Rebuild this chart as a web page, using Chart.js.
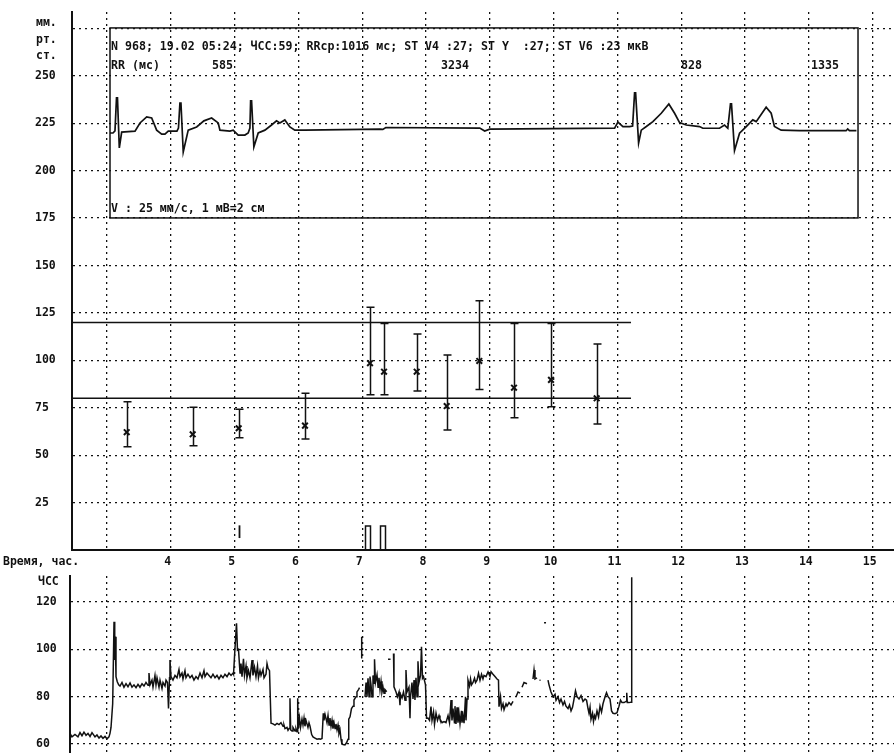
<!DOCTYPE html>
<html>
<head>
<meta charset="utf-8">
<script src="https://cdn.jsdelivr.net/npm/chart.js@4.4.1/dist/chart.umd.min.js"></script>
<style>
    html, body { margin: 0; padding: 0; background: #fff; }
    body { width: 894px; height: 753px; position: relative; overflow: hidden; }
    canvas { position: absolute; left: 0; }
    #bpChart { top: 0; }
    #hrChart { top: 570px; }
</style>
</head>
<body>
<canvas id="bpChart" width="894" height="570"></canvas>
<canvas id="hrChart" width="894" height="183"></canvas>
<script>
// time axis (hours)
const hourTicks = [3, 4, 5, 6, 7, 8, 9, 10, 11, 12, 13, 14, 15];
const hourLabels = ['', '4', '5', '6', '7', '8', '9', '10', '11', '12', '13', '14', '15'];

// blood pressure axis (mm Hg)
const bpTicks = [0, 25, 50, 75, 100, 125, 150, 175, 200, 225, 250, 275];
const bpTickLabels = ['', '25', '50', '75', '100', '125', '150', '175', '200', '225', '250', ''];

// heart rate axis
const hrTicks = [60, 80, 100, 120];
const hrTickLabels = ['60', '80', '100', '120'];

// blood pressure measurements
const bpHours = [3.309, 4.343, 5.064, 6.103, 7.122, 7.342, 7.854, 8.324, 8.835, 9.379, 9.959, 10.675];
const bpMean = [62.1, 61.0, 64.2, 65.6, 98.5, 94.0, 94.0, 75.9, 99.7, 85.6, 89.7, 80.0];
const bpHigh = [78.2, 75.3, 74.2, 82.6, 128.0, 119.5, 113.9, 102.8, 131.5, 119.5, 119.5, 108.6];
const bpLow = [54.5, 55.0, 59.2, 58.5, 81.9, 81.9, 83.9, 63.3, 84.7, 69.8, 75.6, 66.5];

// normal range lines
const normLevels = [80, 120];
const normEnd = 11.213;

// event marks near the time axis
const eventHours = [7.091, 7.326];
const eventHeight = [12.7, 12.7];
const tickMarkHour = [5.069];
const tickMarkRange = [[6.3, 13]];

// ECG strip, drawn in the chart's units
const ecgFrame = { from: 3.047, to: 14.771, low: 175.1, high: 275.3 };
const ecgTrace = [
    [3.047, 219.9], [3.094, 219.9], [3.125, 221.0], [3.149, 238.4], [3.164, 238.4], [3.193, 212.0],
    [3.230, 220.4], [3.439, 220.9], [3.517, 225.2], [3.622, 228.4], [3.700, 227.8], [3.778, 221.4],
    [3.857, 219.3], [3.908, 219.3], [3.960, 220.9], [4.096, 220.9], [4.120, 222.5], [4.143, 235.7],
    [4.159, 235.7], [4.195, 209.9], [4.273, 221.4], [4.405, 223.1], [4.519, 226.3], [4.640, 227.8],
    [4.743, 225.2], [4.770, 221.4], [4.926, 220.9], [4.978, 221.4], [5.056, 218.8], [5.161, 218.8],
    [5.213, 219.9], [5.240, 222.5], [5.251, 236.8], [5.266, 236.8], [5.302, 212.5], [5.370, 219.9],
    [5.475, 221.4], [5.579, 224.1], [5.657, 226.3], [5.709, 225.2], [5.787, 226.8], [5.866, 223.1],
    [5.944, 221.4], [6.101, 221.4], [7.276, 221.9], [7.323, 221.8], [7.370, 222.8], [8.842, 222.5],
    [8.920, 220.9], [8.998, 221.9], [10.956, 222.5], [11.008, 225.6], [11.086, 223.3], [11.191, 223.3],
    [11.238, 223.6], [11.269, 241.0], [11.285, 241.0], [11.332, 214.6], [11.374, 221.4], [11.453, 223.3],
    [11.556, 225.9], [11.687, 230.3], [11.806, 235.2], [11.896, 230.3], [11.974, 225.4], [12.079, 224.1],
    [12.287, 223.3], [12.339, 222.4], [12.600, 222.4], [12.679, 224.1], [12.730, 222.4], [12.772, 235.2],
    [12.788, 235.2], [12.835, 210.6], [12.914, 219.8], [13.019, 223.3], [13.122, 226.8], [13.175, 225.9],
    [13.331, 233.5], [13.410, 230.3], [13.461, 223.3], [13.566, 221.4], [13.853, 221.1], [14.584, 221.1],
    [14.609, 222.0], [14.636, 221.1], [14.746, 221.1]
];

// heart rate trend, [hour, bpm]; null breaks the line
const hrTrace = [
    [2.420, 64.5], [2.451, 63], [2.498, 64], [2.545, 63], [2.577, 64.8], [2.608, 63.5], [2.639, 65],
    [2.671, 63.7], [2.702, 64.5], [2.734, 63.2], [2.765, 64.8], [2.812, 63], [2.843, 63.8], [2.875, 62.5],
    [2.906, 63.4], [2.937, 62.4], [2.969, 63.2], [3.000, 62.2], [3.031, 63], [3.047, 64.5], [3.063, 67],
    [3.089, 77], [3.110, 111.7], [3.121, 95.5], [3.130, 105.4], [3.141, 88.5], [3.161, 86.3], [3.183, 85],
    [3.204, 84.5], [3.235, 86], [3.266, 84], [3.298, 85.5], [3.329, 84.2], [3.361, 85.8], [3.392, 84],
    [3.423, 85], [3.455, 83.8], [3.486, 85.2], [3.517, 84], [3.549, 85.5], [3.580, 84.5], [3.611, 86],
    [3.643, 84.8], [3.658, 90], [3.674, 85], [3.705, 87], [3.721, 84], [3.752, 89], [3.768, 85],
    [3.784, 88], [3.815, 84], [3.831, 87], [3.862, 83.5], [3.878, 86], [3.909, 84.5], [3.925, 87],
    [3.948, 86], [3.964, 75], [3.980, 88], [3.987, 95.5], [4.003, 88.5],
    [4.034, 87], [4.066, 89], [4.097, 88], [4.128, 91.5], [4.144, 88.5], [4.175, 90], [4.191, 87.5],
    [4.222, 91], [4.238, 88], [4.269, 89.5], [4.301, 88], [4.332, 89], [4.363, 87], [4.395, 88.5],
    [4.426, 87.5], [4.458, 90], [4.489, 88], [4.520, 91], [4.536, 88.5], [4.567, 90], [4.599, 89],
    [4.630, 88], [4.661, 89.5], [4.693, 88], [4.724, 89], [4.755, 87.5], [4.787, 89], [4.818, 88],
    [4.849, 89.5], [4.881, 88.5], [4.912, 90], [4.944, 89], [4.975, 90],
    [4.983, 89.5], [5.006, 100.5], [5.030, 111], [5.045, 99.7], [5.061, 100],
    [5.085, 90], [5.100, 94], [5.116, 88.5], [5.139, 96], [5.155, 89], [5.179, 93], [5.194, 88],
    [5.218, 91], [5.241, 88], [5.273, 95.5], [5.288, 89], [5.312, 92.5], [5.335, 88.5], [5.359, 93],
    [5.374, 88], [5.398, 91], [5.414, 89], [5.445, 91.5], [5.461, 88], [5.492, 89.5], [5.508, 94],
    [5.524, 92], [5.547, 91], [5.571, 68.8],
    [5.602, 68.5], [5.633, 68], [5.665, 68.7], [5.696, 68.2], [5.727, 69], [5.759, 67.5], [5.774, 68],
    [5.790, 66.5], [5.821, 67], [5.837, 65.8], [5.853, 66.5], [5.868, 79.3], [5.879, 66], [5.900, 65.5],
    [5.915, 67], [5.947, 65.5], [5.962, 66.5], [5.978, 65.2], [5.989, 79.3], [5.998, 66.5], [6.017, 71],
    [6.033, 67], [6.056, 70.5], [6.072, 68], [6.088, 71], [6.103, 67.5], [6.119, 70], [6.150, 67],
    [6.166, 69], [6.182, 67.5],
    [6.208, 64], [6.229, 63], [6.260, 62.5], [6.292, 62], [6.323, 62.2], [6.346, 62], [6.370, 62.3],
    [6.390, 73], [6.401, 70], [6.417, 72.5], [6.448, 69], [6.464, 72], [6.480, 68], [6.495, 71],
    [6.511, 67.5], [6.527, 70], [6.542, 66.5], [6.558, 69], [6.574, 66.5], [6.589, 68.5], [6.605, 66],
    [6.621, 68], [6.636, 64.5], [6.652, 66], [6.668, 62], [6.683, 60], [6.699, 59.8], [6.730, 59.6],
    [6.754, 60.5], [6.778, 62], [6.789, 70.5], [6.809, 71.5], [6.832, 75], [6.856, 76], [6.871, 78.6],
    [6.903, 80], [6.918, 82], [6.942, 83], [6.958, 83.8],
    null, [6.992, 96.2], [6.992, 105.4], null,
    [7.044, 80], [7.060, 86], [7.075, 80], [7.091, 87.8], [7.107, 80], [7.122, 88.5], [7.138, 85],
    [7.154, 80], [7.169, 89], [7.185, 85.7], [7.193, 95.8], [7.208, 86], [7.232, 89.2], [7.248, 84],
    [7.263, 88], [7.279, 83], [7.295, 86.5], [7.310, 82], [7.326, 84], [7.342, 81.5], [7.357, 83],
    [7.384, 82.1],
    null, [7.404, 95.8], [7.444, 95.8], null,
    [7.491, 98.3], [7.498, 84.2], [7.530, 82], [7.553, 80], [7.577, 82], [7.592, 76.4], [7.600, 81],
    [7.624, 79.5], [7.647, 82], [7.671, 78.5], [7.686, 91.3], [7.702, 82], [7.733, 84], [7.749, 70.9],
    [7.757, 80], [7.780, 86], [7.796, 79], [7.812, 87], [7.827, 78.6], [7.843, 88], [7.859, 80],
    [7.874, 95], [7.890, 86], [7.914, 89], [7.929, 101.1], [7.945, 87.8], [7.961, 88.5], [7.992, 85],
    [8.008, 70.9], [8.031, 71], [8.055, 70], [8.078, 75.8], [8.094, 70], [8.118, 73.5], [8.133, 68.3],
    [8.157, 73], [8.180, 70], [8.204, 72], [8.219, 70.5], [8.251, 69], [8.282, 69.5], [8.313, 69],
    [8.345, 72], [8.368, 69], [8.392, 78.6], [8.407, 70], [8.423, 75], [8.446, 69], [8.454, 76],
    [8.470, 68.5], [8.486, 75.5], [8.501, 69], [8.517, 73], [8.533, 68.5], [8.556, 74], [8.564, 69],
    [8.580, 72], [8.596, 68.8], [8.619, 80], [8.627, 70], [8.643, 79], [8.658, 87], [8.682, 84.5],
    [8.698, 87.5], [8.713, 85], [8.737, 86], [8.760, 87.8], [8.776, 86], [8.799, 87], [8.823, 89.9],
    [8.846, 87], [8.870, 89.5], [8.893, 87.5], [8.909, 89], [8.940, 88.5], [8.972, 90.5], [9.003, 88.6],
    [9.019, 90.6], [9.050, 89.5], [9.081, 88.5], [9.113, 87.5], [9.136, 87], [9.144, 75.8], [9.168, 80],
    [9.183, 75], [9.207, 77], [9.223, 74.5], [9.254, 77], [9.270, 76], [9.301, 77.5], [9.332, 76.5],
    [9.364, 78],
    null, [9.411, 80], [9.442, 82], [9.473, 81.5],
    null, [9.505, 84], [9.536, 86], [9.583, 85.5],
    null, [9.677, 87.5], [9.693, 91.3], [9.708, 87.5], [9.740, 88],
    null, [9.779, 87], [9.795, 87],
    null, [9.850, 111.3], [9.881, 111.3], null,
    [9.912, 87], [9.928, 85], [9.959, 82], [9.991, 80], [10.022, 81], [10.038, 78.5], [10.069, 80],
    [10.093, 77.5], [10.116, 79], [10.147, 76.5], [10.171, 78], [10.194, 76], [10.226, 75], [10.249, 76.5],
    [10.273, 74], [10.296, 75.5], [10.320, 79], [10.343, 82.5], [10.367, 80], [10.398, 79], [10.430, 80.5],
    [10.461, 78], [10.492, 79], [10.516, 78.5], [10.539, 75], [10.555, 73], [10.571, 75.5], [10.586, 70.5],
    [10.610, 73], [10.625, 69.5], [10.641, 72], [10.657, 70.8], [10.680, 74], [10.704, 71.5], [10.727, 76],
    [10.751, 73.5], [10.774, 77], [10.806, 80], [10.829, 81.7], [10.853, 80], [10.884, 79], [10.908, 74],
    [10.931, 73], [10.962, 72.8], [10.994, 73.2], [11.025, 76], [11.049, 78.5], [11.072, 77.5],
    [11.104, 77.5], [11.135, 78], [11.146, 81.7], [11.155, 77.5], [11.182, 77.5], [11.213, 77.7],
    [11.224, 77.7], [11.224, 130.5]
];

const INK = '#111';
const FONT = '"DejaVu Sans Mono", "Liberation Mono", monospace';

Chart.defaults.font.family = FONT;
Chart.defaults.font.size = 11.5;
Chart.defaults.font.weight = 'bold';
Chart.defaults.color = INK;

const toPoints = arr => {
    let lastX = arr[0][0];
    return arr.map(p => {
        if (!p) return { x: lastX, y: null };
        lastX = p[0];
        return { x: p[0], y: p[1] };
    });
};

// keep the plot area exactly where the layout puts it (no room reserved for edge labels)
const noEdgePadding = s => {
    s.paddingTop = 0;
    s.paddingBottom = 0;
    s.paddingLeft = 0;
    s.paddingRight = 0;
};

// whiskers for each measurement plus the small event marks on the time axis
const errorBars = {
    id: 'errorBars',
    afterDatasetsDraw(chart) {
        const { ctx, scales: { x, y } } = chart;
        ctx.save();
        ctx.strokeStyle = INK;
        ctx.lineWidth = 1.5;
        bpHours.forEach((h, i) => {
            const px = Math.round(x.getPixelForValue(h)) + 0.5;
            const top = y.getPixelForValue(bpHigh[i]);
            const bot = y.getPixelForValue(bpLow[i]);
            ctx.beginPath();
            ctx.moveTo(px, top);
            ctx.lineTo(px, bot);
            ctx.moveTo(px - 4, top);
            ctx.lineTo(px + 4, top);
            ctx.moveTo(px - 4, bot);
            ctx.lineTo(px + 4, bot);
            ctx.stroke();
        });

        // hollow event bars
        const base = y.getPixelForValue(0);
        eventHours.forEach((h, i) => {
            const px = Math.round(x.getPixelForValue(h));
            const top = y.getPixelForValue(eventHeight[i]);
            ctx.beginPath();
            ctx.moveTo(px - 2.5, base);
            ctx.lineTo(px - 2.5, top);
            ctx.lineTo(px + 2.5, top);
            ctx.lineTo(px + 2.5, base);
            ctx.stroke();
        });

        // thin marker
        ctx.lineWidth = 1.8;
        tickMarkHour.forEach((h, i) => {
            const px = Math.round(x.getPixelForValue(h)) + 0.5;
            ctx.beginPath();
            ctx.moveTo(px, y.getPixelForValue(tickMarkRange[i][0]));
            ctx.lineTo(px, y.getPixelForValue(tickMarkRange[i][1]));
            ctx.stroke();
        });
        ctx.restore();
    }
};

// ECG frame and its captions
const ecgBox = {
    id: 'ecgBox',
    afterDatasetsDraw(chart) {
        const { ctx, scales: { x, y } } = chart;
        const left = x.getPixelForValue(ecgFrame.from);
        const right = x.getPixelForValue(ecgFrame.to);
        const top = y.getPixelForValue(ecgFrame.high);
        const bottom = y.getPixelForValue(ecgFrame.low);
        ctx.save();
        ctx.strokeStyle = INK;
        ctx.lineWidth = 1.5;
        ctx.strokeRect(left, top, right - left, bottom - top);

        ctx.fillStyle = INK;
        ctx.font = 'bold 11.6px ' + FONT;
        ctx.textBaseline = 'middle';
        ctx.textAlign = 'left';
        ctx.fillText('N 968; 19.02 05:24; ЧСС:59; RRср:1016 мс; ST V4 :27; ST Y  :27; ST V6 :23 мкВ', left + 1, top + 19);
        ctx.fillText('RR (мс)', left + 1, top + 38);
        ctx.fillText('585', 212, top + 38);
        ctx.fillText('3234', 441, top + 38);
        ctx.fillText('828', 681, top + 38);
        ctx.fillText('1335', 811, top + 38);
        ctx.fillText('V : 25 мм/с, 1 мВ=2 см', left + 1, bottom - 9);
        ctx.restore();
    }
};

const bpCaptions = {
    id: 'bpCaptions',
    afterDraw(chart) {
        const { ctx } = chart;
        ctx.save();
        ctx.fillStyle = INK;
        ctx.font = 'bold 11.5px ' + FONT;
        ctx.textBaseline = 'middle';
        ctx.textAlign = 'left';
        ctx.fillText('мм.', 36, 23);
        ctx.fillText('рт.', 36, 40);
        ctx.fillText('ст.', 36, 56);
        ctx.fillText('Время, час.', 3, 562);
        ctx.restore();
    }
};

const hrCaptions = {
    id: 'hrCaptions',
    afterDraw(chart) {
        const { ctx } = chart;
        ctx.save();
        ctx.fillStyle = INK;
        ctx.font = 'bold 11.5px ' + FONT;
        ctx.textBaseline = 'middle';
        ctx.textAlign = 'left';
        ctx.fillText('ЧСС', 38, 12);
        ctx.restore();
    }
};

const dottedGrid = { color: INK, lineWidth: 1.3, drawTicks: false, offset: false };

new Chart(document.getElementById('bpChart'), {
    type: 'line',
    data: {
        datasets: [
            {
                data: toPoints(ecgTrace),
                borderColor: INK,
                borderWidth: 1.7,
                pointRadius: 0,
                tension: 0
            },
            ...normLevels.map(level => ({
                data: [{ x: 2.4514, y: level }, { x: normEnd, y: level }],
                borderColor: INK,
                borderWidth: 1.6,
                pointRadius: 0
            })),
            {
                data: bpHours.map((h, i) => ({ x: h, y: bpMean[i] })),
                showLine: false,
                pointStyle: 'crossRot',
                pointRadius: 4,
                pointBorderWidth: 2,
                pointBorderColor: INK
            }
        ]
    },
    options: {
        responsive: false,
        animation: false,
        devicePixelRatio: 1,
        layout: { autoPadding: false, padding: { left: 35, top: 12, right: 0, bottom: 0 } },
        plugins: { legend: { display: false }, tooltip: { enabled: false } },
        scales: {
            x: {
                type: 'linear',
                min: 2.4514,
                max: 15.335,
                offset: false,
                afterBuildTicks: s => { s.ticks = hourTicks.map(v => ({ value: v })); },
                afterFit: s => { s.height = 20; noEdgePadding(s); },
                grid: dottedGrid,
                border: { color: INK, width: 2, dash: [2, 4] },
                ticks: { padding: 5, labelOffset: -3, maxRotation: 0, autoSkip: false, callback: (v, i) => hourLabels[i] }
            },
            y: {
                min: 0,
                max: 283.7,
                afterBuildTicks: s => { s.ticks = bpTicks.map(v => ({ value: v })); },
                afterFit: s => { s.width = 37; noEdgePadding(s); },
                grid: dottedGrid,
                border: { color: INK, width: 2, dash: [2, 4] },
                ticks: { crossAlign: 'far', padding: 0, autoSkip: false, callback: (v, i) => bpTickLabels[i] }
            }
        }
    },
    plugins: [errorBars, ecgBox, bpCaptions]
});

new Chart(document.getElementById('hrChart'), {
    type: 'line',
    data: {
        datasets: [{
            data: toPoints(hrTrace),
            borderColor: INK,
            borderWidth: 1.5,
            pointRadius: 0,
            tension: 0,
            spanGaps: false
        }]
    },
    options: {
        responsive: false,
        animation: false,
        devicePixelRatio: 1,
        layout: { autoPadding: false, padding: { left: 36, top: 6, right: 0, bottom: 0 } },
        plugins: { legend: { display: false }, tooltip: { enabled: false } },
        scales: {
            x: {
                type: 'linear',
                min: 2.4201,
                max: 15.335,
                offset: false,
                afterBuildTicks: s => { s.ticks = hourTicks.map(v => ({ value: v })); },
                afterFit: s => { s.height = 0; noEdgePadding(s); },
                grid: dottedGrid,
                border: { display: false, dash: [2, 4] },
                ticks: { display: false }
            },
            y: {
                min: 56.19,
                max: 131.04,
                afterBuildTicks: s => { s.ticks = hrTicks.map(v => ({ value: v })); },
                afterFit: s => { s.width = 34; noEdgePadding(s); },
                grid: dottedGrid,
                border: { color: INK, width: 2, dash: [2, 4] },
                ticks: { crossAlign: 'far', padding: 0, autoSkip: false, callback: (v, i) => hrTickLabels[i] }
            }
        }
    },
    plugins: [hrCaptions]
});
</script>
</body>
</html>
